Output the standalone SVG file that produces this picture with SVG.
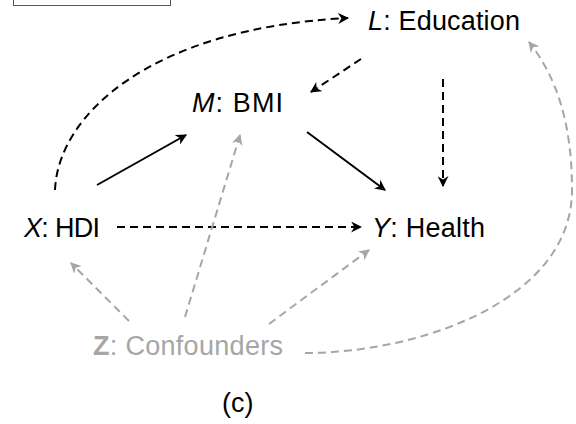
<svg xmlns="http://www.w3.org/2000/svg" width="576" height="424" viewBox="0 0 576 424">
<style>
text{font-family:"Liberation Sans",Arial,sans-serif;font-size:27px;fill:#000}
.g{fill:#a6a6a6}
.it{font-style:italic}
.bd{font-weight:bold}
.dk{fill:none;stroke:#000;stroke-width:2;stroke-dasharray:8 5}
.sk{fill:none;stroke:#000;stroke-width:2}
.gr{fill:none;stroke:#a6a6a6;stroke-width:2;stroke-dasharray:8 5}
</style>
<defs>
<marker id="ab" viewBox="0 0 10 10" refX="9" refY="5" markerWidth="11" markerHeight="11" markerUnits="userSpaceOnUse" orient="auto">
<path d="M0,0 L10,5 L0,10 L3,5 z" fill="#000"/>
</marker>
<marker id="ag" viewBox="0 0 10 10" refX="9" refY="5" markerWidth="11" markerHeight="11" markerUnits="userSpaceOnUse" orient="auto">
<path d="M0,0 L10,5 L0,10 L3,5 z" fill="#a6a6a6"/>
</marker>
</defs>
<rect x="13.5" y="-20" width="157" height="25.5" fill="#fff" stroke="#555" stroke-width="1"/>
<g id="connectors">
<path class="dk" d="M55,190 C58,115 150,28 348,18" marker-end="url(#ab)"/>
<path class="dk" d="M361,59 L311,92" marker-end="url(#ab)"/>
<path class="dk" d="M443,79 L443,186" marker-end="url(#ab)"/>
<path class="sk" d="M97,185 L186,135" marker-end="url(#ab)"/>
<path class="sk" d="M307,132 L385,190" marker-end="url(#ab)"/>
<path class="dk" d="M117,227 L361,227" marker-end="url(#ab)"/>
<path class="gr" d="M129,321 L71,263" marker-end="url(#ag)"/>
<path class="gr" d="M185,317 L240,135" marker-end="url(#ag)"/>
<path class="gr" d="M269,324 L369,250" marker-end="url(#ag)"/>
<path class="gr" d="M305,353 C420,353 572,300 572,190 C572,120 555,75 529,42" marker-end="url(#ag)"/>
</g>
<g id="L"><text x="368" y="30" textLength="152"><tspan class="it">L</tspan>: Education</text></g>
<g id="M"><text x="192" y="112" textLength="91"><tspan class="it">M</tspan>: BMI</text></g>
<g id="X"><text x="24" y="237" textLength="76"><tspan class="it">X</tspan>: HDI</text></g>
<g id="Y"><text x="372" y="237" textLength="113"><tspan class="it">Y</tspan>: Health</text></g>
<g id="Z"><text x="93" y="355" textLength="190" class="g"><tspan class="bd">Z</tspan>: Confounders</text></g>
<g id="caption"><text x="222" y="412">(c)</text></g>
</svg>
